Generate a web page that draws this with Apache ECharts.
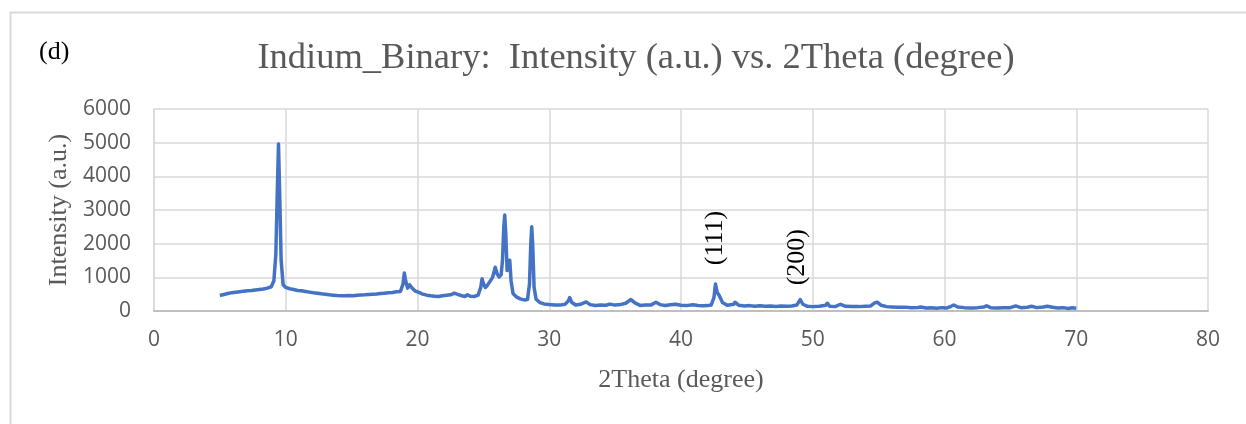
<!DOCTYPE html>
<html>
<head>
<meta charset="utf-8">
<script src="https://cdn.jsdelivr.net/npm/echarts@6/dist/echarts.min.js"></script>
<style>html,body{margin:0;padding:0;background:#fff}#c{width:1246px;height:424px}</style>
</head>
<body>
<div id="c"></div>
<script>
var twoTheta = [5.0,5.3,5.6,5.9,6.2,6.5,6.8,7.1,7.4,7.7,8.0,8.3,8.6,8.9,9.1,9.25,9.35,9.45,9.55,9.65,9.8,10.0,10.3,10.6,10.9,11.2,11.5,11.8,12.1,12.4,12.7,13.0,13.3,13.6,13.9,14.2,14.5,14.8,15.1,15.4,15.7,16.0,16.3,16.6,16.9,17.2,17.5,17.8,18.1,18.4,18.7,18.9,19.0,19.1,19.25,19.4,19.55,19.8,20.1,20.4,20.7,21.0,21.3,21.6,21.9,22.2,22.5,22.8,23.0,23.3,23.6,23.8,24.0,24.3,24.6,24.8,24.9,25.0,25.15,25.3,25.5,25.7,25.9,26.05,26.2,26.35,26.45,26.55,26.62,26.7,26.8,26.9,27.0,27.1,27.25,27.5,27.8,28.1,28.35,28.5,28.6,28.67,28.75,28.85,29.0,29.3,29.6,30.0,30.4,30.8,31.2,31.45,31.55,31.7,32.0,32.4,32.8,33.1,33.5,33.9,34.3,34.6,35.0,35.4,35.8,36.2,36.5,36.9,37.3,37.7,38.1,38.4,38.8,39.2,39.6,40.0,40.4,40.9,41.3,41.7,42.0,42.3,42.5,42.62,42.75,42.9,43.0,43.15,43.5,44.0,44.1,44.4,44.8,45.2,45.6,46.0,46.4,46.8,47.2,47.6,48.0,48.4,48.8,49.05,49.25,49.6,50.0,50.5,51.0,51.1,51.3,51.7,52.1,52.25,52.5,53.0,53.5,54.0,54.4,54.7,54.9,55.2,55.6,56.0,56.5,57.0,57.5,58.0,58.2,58.6,59.0,59.4,59.8,60.2,60.5,60.7,61.0,61.5,62.0,62.5,63.0,63.2,63.5,64.0,64.5,65.0,65.4,65.8,66.3,66.6,67.0,67.5,67.8,68.2,68.6,69.0,69.4,69.7,70.0];
var intensity = [460,490,520,545,560,575,590,600,610,625,640,655,680,720,900,1700,3400,4960,3300,1500,780,700,660,640,610,600,580,560,540,530,510,500,480,470,460,455,450,460,455,470,475,480,490,500,505,520,530,540,550,570,580,800,1130,900,680,780,700,600,550,500,470,450,440,430,450,470,480,530,500,460,430,480,440,430,470,700,960,820,700,760,880,1000,1300,1100,1010,1080,1500,2500,2850,2300,1200,1300,1510,900,520,420,360,330,340,800,2000,2500,1900,700,350,250,210,190,180,175,200,300,400,260,180,200,270,190,165,180,170,205,175,190,230,340,240,165,180,175,260,190,165,185,200,170,160,185,165,155,160,180,400,800,550,460,470,250,170,200,260,170,150,160,140,155,140,150,135,150,140,150,180,340,200,140,130,140,170,230,140,130,200,250,140,135,130,140,150,240,260,170,130,120,110,115,100,105,120,90,95,80,100,90,140,180,120,100,90,100,120,155,100,90,95,100,150,100,110,140,100,120,140,110,90,100,75,95,80];
var xTicks = [0,10,20,30,40,50,60,70,80];
var yTicks = [0,1000,2000,3000,4000,5000,6000];
var peakLabels = ['(111)','(200)'];
var peakLabelPos = [[42.57,2170],[48.8,1600]];

var serif = '"Liberation Serif","DejaVu Serif",serif';
var sans = '"Open Sans","Noto Sans",sans-serif';
var chart = echarts.init(document.getElementById('c'), null, {renderer:'canvas'});
var pts = twoTheta.map(function(x,i){return [x,intensity[i]];});
chart.setOption({
  animation:false,
  backgroundColor:'#fff',
  title:{text:'Indium_Binary:  Intensity (a.u.) vs. 2Theta (degree)',left:631,textAlign:'center',top:35,
    textStyle:{fontFamily:serif,fontSize:36.5,fontWeight:'normal',color:'#595959'}},
  grid:{left:154,right:38,top:109,bottom:113,containLabel:false},
  xAxis:{type:'value',min:xTicks[0],max:xTicks[xTicks.length-1],interval:10,
    name:'2Theta (degree)',nameLocation:'middle',nameGap:56,
    nameTextStyle:{fontFamily:serif,fontSize:26,color:'#595959',verticalAlign:'top'},
    axisLine:{show:true,lineStyle:{color:'#bfbfbf',width:2}},axisTick:{show:false},
    axisLabel:{fontFamily:sans,fontSize:21,color:'#595959',margin:19,formatter:function(v){return String(v);}},
    splitLine:{show:true,lineStyle:{color:'#d9d9d9',width:1.5}}},
  yAxis:{type:'value',min:yTicks[0],max:yTicks[yTicks.length-1],interval:1000,
    name:'Intensity (a.u.)',nameLocation:'middle',nameGap:80,
    nameTextStyle:{fontFamily:serif,fontSize:26,color:'#595959'},
    axisLine:{show:true,lineStyle:{color:'#d9d9d9',width:1.5}},axisTick:{show:false},
    axisLabel:{fontFamily:sans,fontSize:21,color:'#595959',margin:23,formatter:function(v){return String(v);}},
    splitLine:{show:true,lineStyle:{color:'#d9d9d9',width:1.5}}},
  series:[{type:'line',data:pts,showSymbol:false,symbol:'none',
    lineStyle:{color:'#4472c4',width:3.5,join:'round'},z:5}]
});
var g = [
  {type:'rect',shape:{x:10.5,y:12.5,width:1260,height:430},style:{fill:'none',stroke:'#d9d9d9',lineWidth:2},z:-1},
  {type:'text',left:39,top:39,style:{text:'(d)',font:'26px '+serif,fill:'#000'}}
];
peakLabels.forEach(function(t,i){
  var p = chart.convertToPixel({gridIndex:0},peakLabelPos[i]);
  g.push({type:'text',x:p[0],y:p[1],rotation:Math.PI/2,
    style:{text:t,font:'26px '+serif,fill:'#000',align:'center',verticalAlign:'middle'},z:10});
});
chart.setOption({graphic:g});
</script>
</body>
</html>
